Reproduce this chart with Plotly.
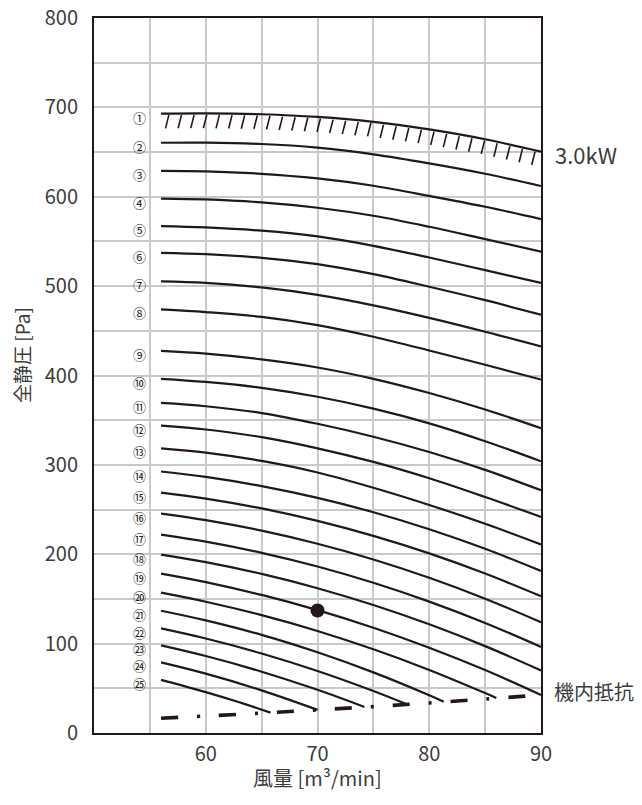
import numpy as np
import plotly.graph_objects as go

FONT = "Noto Sans CJK JP"
INK = "#231815"
TXT = "#3c3c3c"
GRID = "#c9c9c9"

# ---------------- data ----------------
x_full = [56, 60, 65, 70, 75, 80, 85, 90]

curve_01 = [693.0, 693.3, 692.3, 689.3, 683.8, 675.3, 664.3, 650.5]
curve_02 = [660.4, 660.5, 659.0, 654.9, 647.4, 637.3, 625.7, 612.0]
curve_03 = [629.0, 628.4, 625.7, 620.5, 612.3, 601.0, 588.8, 575.0]
curve_04 = [598.0, 597.0, 593.7, 587.7, 578.7, 566.4, 552.6, 538.6]
curve_05 = [567.2, 565.7, 562.0, 555.6, 545.1, 532.0, 517.9, 503.5]
curve_06 = [537.3, 535.8, 531.7, 524.6, 513.4, 499.3, 484.3, 468.0]
curve_07 = [505.3, 503.7, 498.6, 490.2, 478.5, 464.5, 449.0, 432.5]
curve_08 = [474.0, 471.0, 465.6, 456.3, 443.3, 428.0, 412.0, 395.5]
curve_09 = [427.5, 424.4, 418.0, 409.0, 396.3, 380.4, 361.9, 341.0]
curve_10 = [396.3, 392.8, 386.2, 376.2, 363.0, 346.5, 326.5, 304.0]
curve_11 = [369.3, 365.6, 358.0, 346.0, 331.5, 314.4, 294.4, 271.6]
curve_12 = [344.0, 339.6, 331.0, 318.5, 303.3, 285.0, 264.0, 241.8]
curve_13 = [318.5, 313.7, 304.4, 291.5, 274.4, 255.1, 234.1, 211.0]
curve_14 = [292.6, 286.5, 276.2, 263.0, 247.0, 228.0, 206.1, 181.3]
curve_15 = [269.0, 262.3, 251.3, 237.4, 220.6, 201.0, 178.4, 153.0]
curve_16 = [245.5, 238.2, 226.4, 211.7, 194.2, 173.7, 150.3, 124.0]
curve_17 = [222.0, 214.1, 201.6, 186.3, 168.1, 147.0, 123.1, 96.3]
curve_18 = [199.6, 191.1, 178.0, 162.0, 143.2, 121.6, 97.2, 70.0]
curve_19 = [178.4, 168.9, 154.5, 137.5, 117.8, 95.4, 70.4, 42.5]

x_20 = [56, 60, 65, 70, 75, 80, 85, 86]
curve_20 = [157.0, 146.9, 131.9, 114.2, 93.7, 70.6, 44.7, 39.2]
x_21 = [56, 60, 65, 70, 75, 80, 81.3]
curve_21 = [136.8, 126.0, 109.8, 90.3, 67.8, 42.2, 35.0]
x_22 = [56, 60, 65, 70, 75, 78]
curve_22 = [117.0, 105.7, 89.0, 69.4, 47.0, 32.1]
x_23 = [56, 60, 65, 70, 74.2]
curve_23 = [98.0, 86.1, 68.6, 48.3, 29.1]
x_24 = [56, 60, 65, 70]
curve_24 = [79.0, 66.4, 47.7, 25.9]
x_25 = [56, 60, 63, 65.8]
curve_25 = [59.5, 45.8, 34.4, 22.8]

resist_x = [56, 60, 65, 70, 75, 80, 85, 90]
resist_y = [16.5, 19.0, 22.3, 25.9, 29.5, 33.6, 38.0, 42.6]

point_x = [70]
point_y = [137]

curve_labels = ["①", "②", "③", "④", "⑤", "⑥", "⑦", "⑧", "⑨", "⑩",
                "⑪", "⑫", "⑬", "⑭", "⑮", "⑯", "⑰", "⑱", "⑲", "⑳",
                "㉑", "㉒", "㉓", "㉔", "㉕"]

x_ticks = [55, 60, 65, 70, 75, 80, 85, 90]
x_ticktext = ["", "60", "", "70", "", "80", "", "90"]
y_ticks = list(range(0, 801, 50))
y_ticktext = [str(v) if v % 100 == 0 else "" for v in y_ticks]

power_label = "3.0kW"
resist_label = "機内抵抗"
x_title = "風量 [m³/min]"
y_title = "全静圧 [Pa]"

# ---------------- build ----------------
series = [
    (x_full, curve_01), (x_full, curve_02), (x_full, curve_03), (x_full, curve_04),
    (x_full, curve_05), (x_full, curve_06), (x_full, curve_07), (x_full, curve_08),
    (x_full, curve_09), (x_full, curve_10), (x_full, curve_11), (x_full, curve_12),
    (x_full, curve_13), (x_full, curve_14), (x_full, curve_15), (x_full, curve_16),
    (x_full, curve_17), (x_full, curve_18), (x_full, curve_19), (x_20, curve_20),
    (x_21, curve_21), (x_22, curve_22), (x_23, curve_23), (x_24, curve_24),
    (x_25, curve_25),
]

fig = go.Figure()

for xs, ys in series:
    fig.add_trace(go.Scatter(
        x=xs, y=ys, mode="lines",
        line=dict(color=INK, width=2.2, shape="spline", smoothing=1.0),
        hoverinfo="skip", showlegend=False))

# hatch marks under the max-power curve (decoration derived from curve_01)
hx, hy = [], []
for xh in np.arange(56.7, 89.9, 1.13):
    top = float(np.interp(xh, x_full, curve_01)) - 1.5
    hx += [xh, xh - 0.3, None]
    hy += [top, top - 15, None]
fig.add_trace(go.Scatter(x=hx, y=hy, mode="lines",
                         line=dict(color=INK, width=1.6),
                         hoverinfo="skip", showlegend=False))

# internal resistance (dash-dot)
fig.add_trace(go.Scatter(
    x=resist_x, y=resist_y, mode="lines",
    line=dict(color=INK, width=3.6, shape="spline", dash="17px,19px,3px,19px"),
    hoverinfo="skip", showlegend=False))

# operating point
fig.add_trace(go.Scatter(x=point_x, y=point_y, mode="markers",
                         marker=dict(color=INK, size=14),
                         hoverinfo="skip", showlegend=False))

annotations = []
for lab, (xs, ys) in zip(curve_labels, series):
    annotations.append(dict(
        x=54.05, y=ys[0] - 4, xref="x", yref="y", text=lab, showarrow=False,
        xanchor="center", yanchor="middle",
        font=dict(family=FONT, size=13, color=INK)))

annotations.append(dict(x=1.027, y=curve_01[-1] - 3, xref="paper", yref="y",
                        text=power_label, showarrow=False, xanchor="left",
                        yanchor="middle", font=dict(family=FONT, size=22, color=TXT)))
annotations.append(dict(x=1.024, y=46, xref="paper", yref="y",
                        text=resist_label, showarrow=False, xanchor="left",
                        yanchor="middle", font=dict(family=FONT, size=20, color=TXT)))
annotations.append(dict(x=0.5, y=-0.062, xref="paper", yref="paper",
                        text=x_title, showarrow=False, xanchor="center",
                        yanchor="middle", font=dict(family=FONT, size=20, color=TXT)))
annotations.append(dict(x=-0.161, y=0.5287, xref="paper", yref="paper",
                        text=y_title, showarrow=False, textangle=-90,
                        xanchor="center", yanchor="middle",
                        font=dict(family=FONT, size=19, color=TXT)))

# the page body has an 8px default margin: the figure is sized to fit inside
# the 642x805 window and the margins place the plot area where the reference has it
fig.update_layout(
    width=634, height=797,
    margin=dict(l=86, r=101, t=10, b=72, autoexpand=False),
    paper_bgcolor="white", plot_bgcolor="white",
    showlegend=False,
    annotations=annotations,
    xaxis=dict(range=[50, 90], tickmode="array", tickvals=x_ticks, ticktext=x_ticktext,
               showgrid=True, gridcolor=GRID, gridwidth=1.5, zeroline=False,
               showline=True, mirror=True, linecolor=INK, linewidth=2, ticks="",
               ticklen=0, ticklabelstandoff=2, automargin=False,
               ticklabeloverflow="allow",
               tickfont=dict(family=FONT, size=20, color=TXT)),
    yaxis=dict(range=[0, 800], tickmode="array", tickvals=y_ticks, ticktext=y_ticktext,
               showgrid=True, gridcolor=GRID, gridwidth=1.5, zeroline=False,
               showline=True, mirror=True, linecolor=INK, linewidth=2, ticks="",
               ticklen=0, ticklabelstandoff=10, automargin=False,
               ticklabeloverflow="allow",
               tickfont=dict(family=FONT, size=20, color=TXT)),
)

fig.write_html("out.html")
